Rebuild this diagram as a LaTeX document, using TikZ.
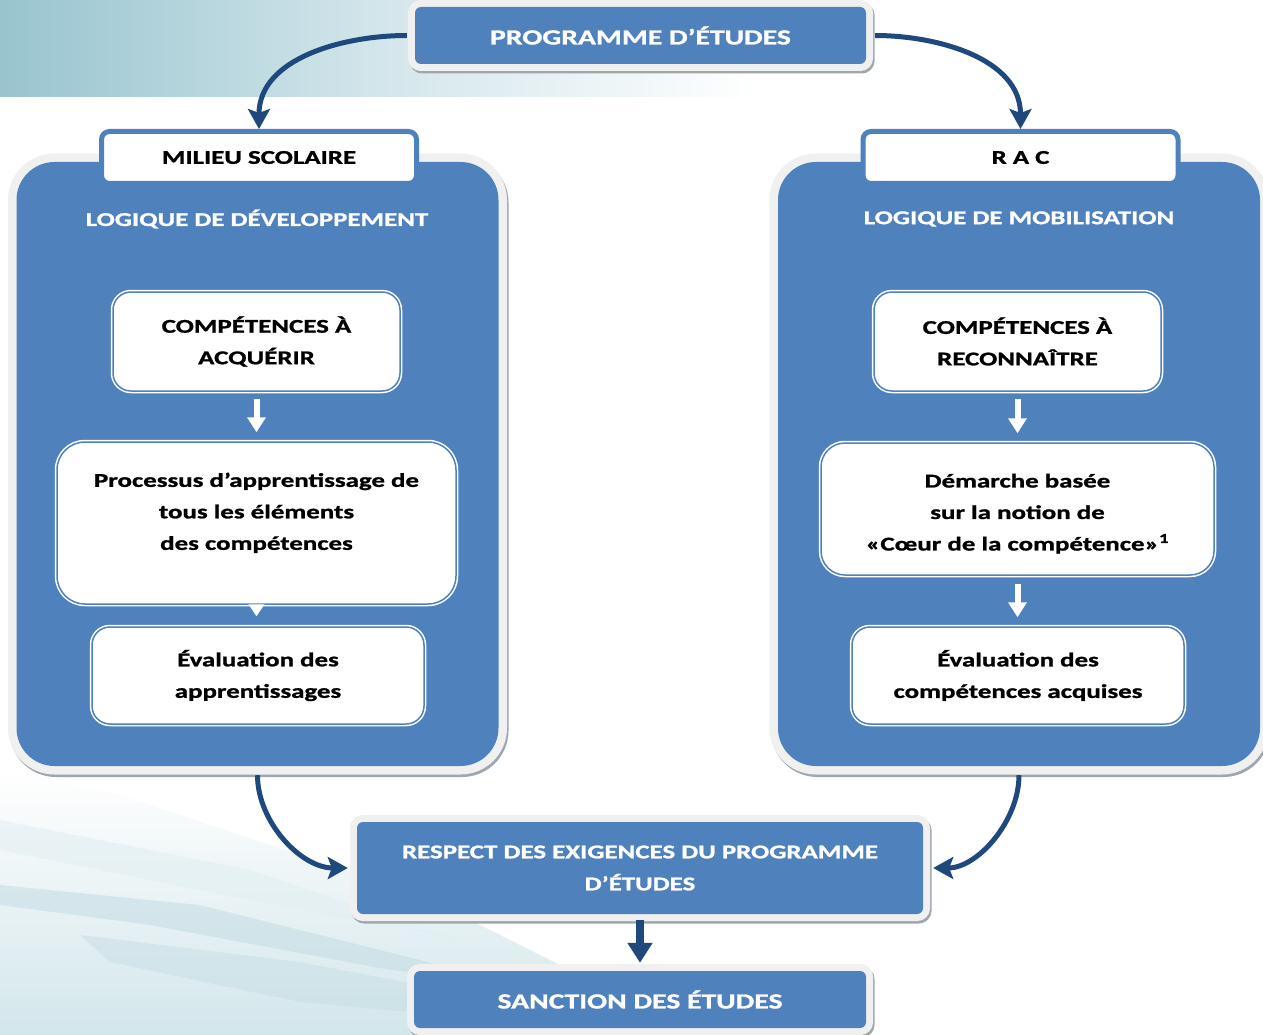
\documentclass[tikz,border=0pt]{standalone}
\usepackage{fontspec}
\setmainfont{Carlito}[FakeStretch=1.38, BoldFeatures={FakeBold=1.2}]
\usetikzlibrary{arrows.meta,shadows}
\definecolor{boxblue}{HTML}{4F81BD}
\definecolor{darkarrow}{HTML}{1F497D}
\definecolor{framegrey}{HTML}{F0F0F0}
\definecolor{shadowgrey}{HTML}{9EA6AE}
\definecolor{tealA}{HTML}{98C4CF}
\definecolor{tealB}{HTML}{D3E6EB}
\definecolor{tealC}{HTML}{BCD8DF}
\definecolor{tealD}{HTML}{E2EFF2}
\begin{document}
\begin{tikzpicture}[x=1pt,y=-1pt,
  bluebox/.style={fill=boxblue, rounded corners=6pt, inner sep=0pt, text=white,
    font=\bfseries\fontsize{19.5}{32}\selectfont, align=center,
    general shadow={draw=shadowgrey, line width=14pt, shadow xshift=1.5pt, shadow yshift=-2.5pt},
    preaction={draw=framegrey, line width=14pt}},
  panel/.style={fill=boxblue, rounded corners=38pt, inner sep=0pt,
    minimum width=482pt, minimum height=604pt,
    general shadow={draw=shadowgrey, line width=17pt, shadow xshift=1.5pt, shadow yshift=-2.5pt},
    preaction={draw=framegrey, line width=17pt}},
  tabbox/.style={fill=white, draw=boxblue, line width=5pt, rounded corners=8pt, inner sep=0pt,
    minimum width=315pt, minimum height=52pt, font=\bfseries\fontsize{19.5}{24}\selectfont},
  whitebox/.style={fill=white, draw=white, double=boxblue, double distance=1.5pt, line width=1.5pt,
    rounded corners=18pt, inner sep=0pt, align=center,
    font=\bfseries\fontsize{19.5}{31.5}\selectfont},
  logic/.style={text=white, font=\bfseries\fontsize{19.5}{24}\selectfont, inner sep=0pt},
  whitearrow/.style={draw=white, line width=6pt, -{Triangle[width=18pt,length=15pt]}},
  darrow/.style={draw=darkarrow, line width=5pt, -{Stealth[width=22pt,length=20pt,inset=4pt]}},
]
\useasboundingbox (0,0) rectangle (1263,1035);
% background decoration
\fill[white] (0,0) rectangle (1263,1035);
\shade[left color=tealA, right color=white, middle color=tealB] (0,0) rectangle (760,97);
\shade[top color=white, bottom color=tealB] (0,770) -- (120,795) -- (420,895) -- (600,985) -- (640,1035) -- (0,1035) -- cycle;
\fill[tealC, opacity=0.45] (0,885) -- (200,905) -- (420,960) -- (530,990) -- (380,968) -- (150,925) -- (0,905) -- cycle;
\fill[tealC, opacity=0.35] (80,935) -- (300,962) -- (560,1012) -- (520,1022) -- (300,1002) -- (110,962) -- cycle;
\fill[tealD, opacity=0.6] (0,820) -- (250,870) -- (460,940) -- (250,900) -- (0,850) -- cycle;

% panels
\node[panel] (lpanel) at (257.5,464) {};
\node[panel] (rpanel) at (1019,464) {};
\node[tabbox] (milieu) at (259,157.5) {MILIEU SCOLAIRE};
\node[tabbox] (rac) at (1020.5,157.5) {R A C};
\node[logic] (logdev) at (257,219) {LOGIQUE DE DÉVELOPPEMENT};
\node[logic] (logmob) at (1019,219) {LOGIQUE DE MOBILISATION};

% top and bottom boxes
\node[bluebox, minimum width=451pt, minimum height=57pt, font=\bfseries\fontsize{21.5}{26}\selectfont] (prog) at (640.5,35.5) {PROGRAMME D’ÉTUDES};
\node[bluebox, minimum width=566pt, minimum height=92pt] (respect) at (640,868) {RESPECT DES EXIGENCES DU PROGRAMME\\D’ÉTUDES};
\node[bluebox, minimum width=452pt, minimum height=57pt, font=\bfseries\fontsize{21.5}{26}\selectfont] (sanction) at (640,999.5) {SANCTION DES ÉTUDES};

% left column
\node[whitebox, minimum width=287pt, minimum height=99pt] (comp1) at (256.5,341.5) {COMPÉTENCES À\\ACQUÉRIR};
\node[whitebox, minimum width=399pt, minimum height=162pt, rounded corners=28pt] (proc) at (256.5,523) {Processus d’apprentissage de\\tous les éléments\\des compétences\\[-8pt]\mbox{}};
\node[whitebox, minimum width=332pt, minimum height=97pt] (eval1) at (258,675.5) {Évaluation des\\apprentissages};

% right column
\node[whitebox, minimum width=287pt, minimum height=99pt] (comp2) at (1017.5,341.5) {COMPÉTENCES À\\RECONNAÎTRE};
\node[whitebox, minimum width=393pt, minimum height=132pt, rounded corners=24pt] (dem) at (1017.5,509) {\rule{0pt}{23pt}Démarche basée\\sur la notion de\\«Cœur de la compétence»\textsuperscript{1}};
\node[whitebox, minimum width=332pt, minimum height=97pt] (eval2) at (1018,675.5) {Évaluation des\\compétences acquises};

% white arrows inside panels
\draw[whitearrow, shorten <=7pt, shorten >=9pt] (comp1.south) -- (proc.north);
\draw[draw=white, line width=1pt, -{Triangle[width=16pt,length=12pt]}, shorten >=10pt] (proc.south) -- (eval1.north -| proc.south);
\draw[whitearrow, shorten <=7pt, shorten >=9pt] (comp2.south) -- (dem.north);
\draw[whitearrow, shorten <=8pt, shorten >=9pt] (dem.south) -- (eval2.north -| dem.south);

% dark connectors
\draw[darrow, shorten <=8pt] (prog.west) to[out=180, in=90] (milieu.north);
\draw[darrow, shorten <=9pt] (prog.east) to[out=0, in=90] (rac.north);
\draw[darrow, shorten <=9pt, shorten >=9pt] (lpanel.south) to[out=-90, in=180] (respect.west);
\draw[darrow, shorten <=9pt, shorten >=10pt] (rpanel.south) to[out=-90, in=0] (respect.east);
\draw[draw=darkarrow, line width=8pt, -{Triangle[width=24pt,length=20pt]}, shorten <=6pt, shorten >=8pt] (respect.south) -- (sanction.north);
\end{tikzpicture}
\end{document}
